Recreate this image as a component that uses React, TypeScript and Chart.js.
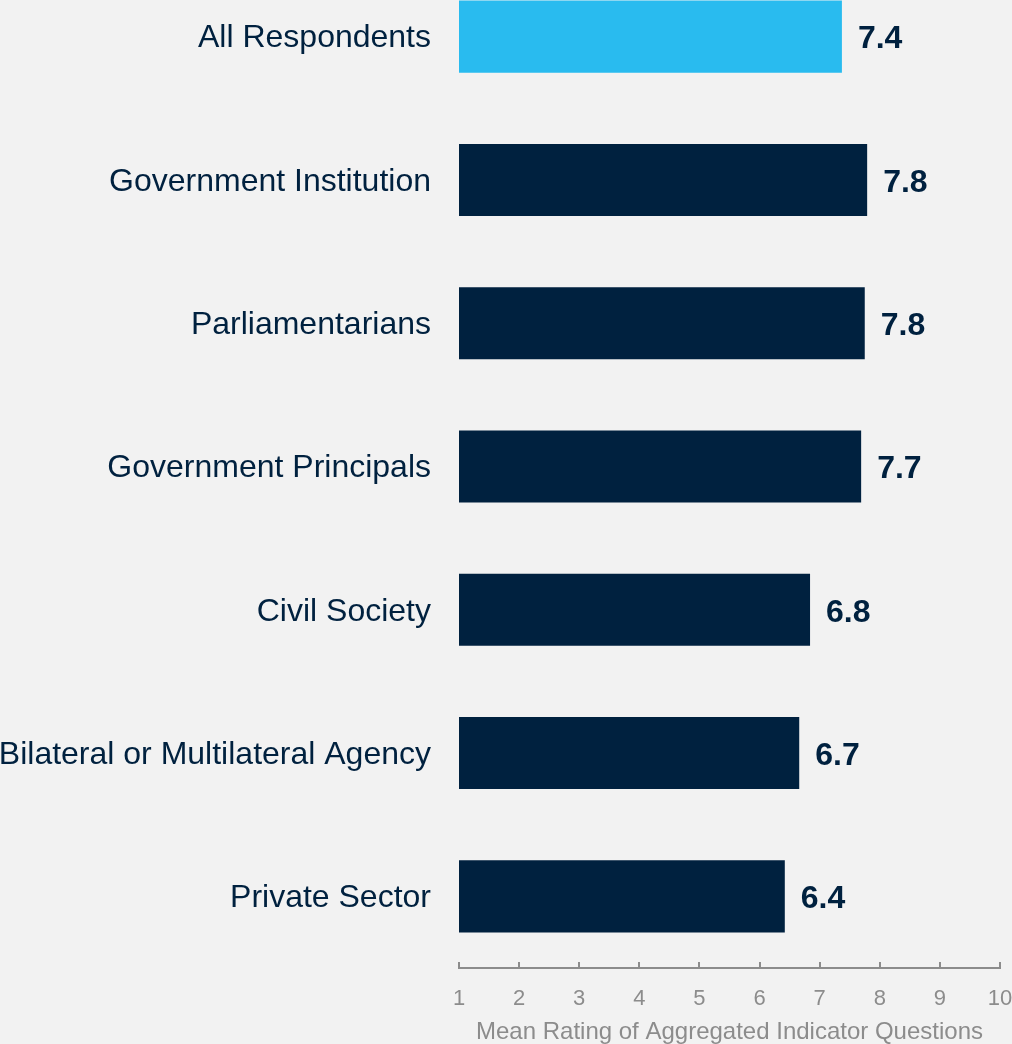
import React, { useEffect, useRef } from 'react';
import { Chart, registerables } from 'chart.js';

Chart.register(...registerables);

const categories = [
  'All Respondents',
  'Government Institution',
  'Parliamentarians',
  'Government Principals',
  'Civil Society',
  'Bilateral or Multilateral Agency',
  'Private Sector',
];
const meanRatings = [7.37, 7.79, 7.75, 7.69, 6.84, 6.66, 6.42];
const barColors = ['#29BBEF', '#00213F', '#00213F', '#00213F', '#00213F', '#00213F', '#00213F'];
const xMin = 1;
const xMax = 10;
const xTitle = 'Mean Rating of Aggregated Indicator Questions';

const FONT = "'Liberation Sans', Arial, Helvetica, sans-serif";
const NAVY = '#00213F';
const GRAY = '#8C8C8C';

const innerTicksPlugin = {
  id: 'innerTicks',
  afterDatasetsDraw(chart: any) {
    const scale = chart.scales.x;
    const ctx = chart.ctx;
    ctx.save();
    ctx.strokeStyle = GRAY;
    ctx.lineWidth = 2;
    scale.ticks.forEach((_t: any, i: number) => {
      const px = Math.round(scale.getPixelForTick(i));
      ctx.beginPath();
      ctx.moveTo(px, scale.top);
      ctx.lineTo(px, scale.top - 6);
      ctx.stroke();
    });
    ctx.restore();
  },
};

const valueLabelsPlugin = {
  id: 'valueLabels',
  afterDatasetsDraw(chart: any) {
    const ctx = chart.ctx;
    const meta = chart.getDatasetMeta(0);
    ctx.save();
    ctx.font = `bold 32px ${FONT}`;
    ctx.fillStyle = NAVY;
    ctx.textAlign = 'left';
    ctx.textBaseline = 'middle';
    meta.data.forEach((bar: any, i: number) => {
      const v = chart.data.datasets[0].data[i] as number;
      ctx.fillText(v.toFixed(1), bar.x + 16, bar.y + 3);
    });
    ctx.restore();
  },
};

export default function App() {
  const canvasRef = useRef<HTMLCanvasElement | null>(null);

  useEffect(() => {
    if (!canvasRef.current) return;
    const chart = new Chart(canvasRef.current, {
      type: 'bar',
      data: {
        labels: categories,
        datasets: [
          {
            data: meanRatings,
            backgroundColor: barColors,
            borderWidth: 0,
            categoryPercentage: 1,
            barPercentage: 0.503,
          },
        ],
      },
      options: {
        indexAxis: 'y',
        responsive: false,
        maintainAspectRatio: false,
        animation: false,
        layout: { autoPadding: false, padding: { top: 0, left: 0, bottom: 0, right: 12 } },
        plugins: {
          legend: { display: false },
          tooltip: { enabled: false },
        },
        scales: {
          x: {
            type: 'linear',
            min: xMin,
            max: xMax,
            ticks: {
              stepSize: 1,
              color: GRAY,
              font: { family: FONT, size: 22 },
              padding: 18,
            },
            grid: { display: false, drawTicks: false },
            border: { display: true, color: GRAY, width: 2 },
            title: {
              display: true,
              text: xTitle,
              color: GRAY,
              font: { family: FONT, size: 24 },
              padding: { top: 4, bottom: -2 },
            },
            afterFit(scale: any) {
              scale.height = 77;
              scale.paddingLeft = 0;
              scale.paddingRight = 0;
            },
          },
          y: {
            type: 'category',
            ticks: {
              color: NAVY,
              font: { family: FONT, size: 32 },
              padding: 28,
              labelOffset: 2,
            },
            grid: { display: false, drawTicks: false },
            border: { display: false },
            afterFit(scale: any) {
              scale.width = 459;
              scale.paddingTop = 0;
              scale.paddingBottom = 0;
            },
          },
        },
      },
      plugins: [innerTicksPlugin, valueLabelsPlugin],
    });
    return () => chart.destroy();
  }, []);

  return (
    <div
      style={{
        position: 'fixed',
        left: 0,
        top: 0,
        width: 1012,
        height: 1044,
        overflow: 'hidden',
        background: '#F2F2F2',
      }}
    >
      <div style={{ position: 'absolute', left: 0, top: -35, width: 1012, height: 1080 }}>
        <canvas ref={canvasRef} width={1012} height={1080} style={{ display: 'block' }} />
      </div>
    </div>
  );
}
